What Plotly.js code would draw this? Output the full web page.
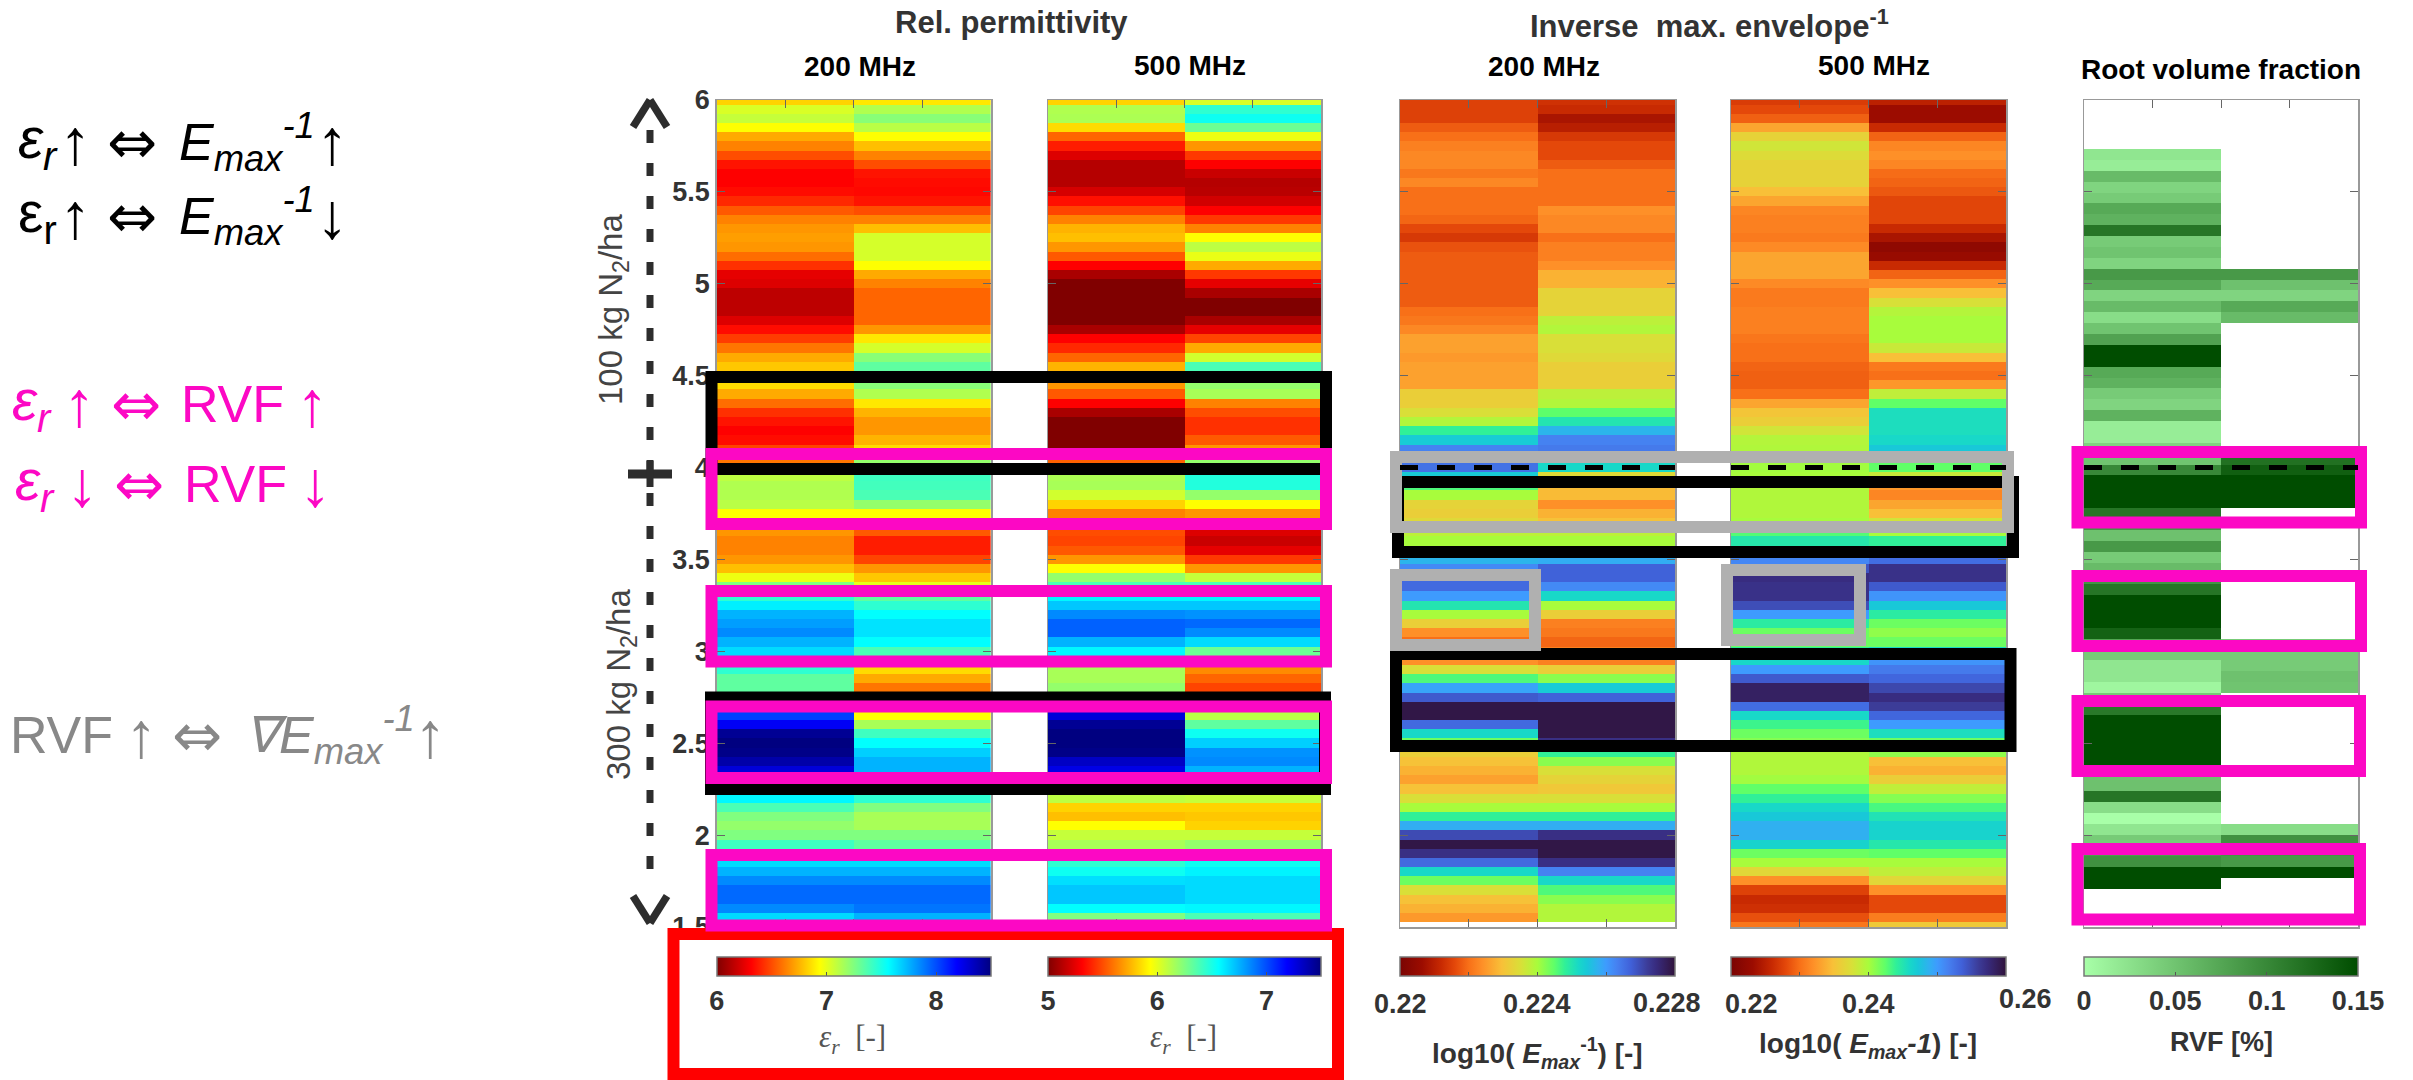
<!DOCTYPE html>
<html>
<head>
<meta charset="utf-8">
<script src="https://cdn.plot.ly/plotly-3.0.1.min.js"></script>
<style>html,body{margin:0;padding:0;background:#fff}#c{width:2413px;height:1080px}</style>
</head>
<body>
<div id="c"></div>
<script>
// Relative permittivity, 200 MHz (depth rows, 6 m to 1.5 m, step 0.05)
var perm200a=[6.83,7.03,7.08,6.94,6.73,6.63,6.5,6.36,6.31,6.31,
6.34,6.41,6.53,6.63,6.68,6.7,6.68,6.58,6.43,6.25,
6.23,6.15,6.15,6.15,6.23,6.34,6.46,6.6,6.73,6.8,
6.85,6.85,6.73,6.58,6.43,6.36,6.31,6.34,6.48,6.6,
7.1,7.1,7.13,7.13,7.11,6.94,6.8,6.68,6.63,6.63,
6.68,6.78,6.98,7.25,7.45,7.6,7.75,7.8,7.85,7.75,
7.65,7.5,7.45,7.33,7.33,7.55,8,8.03,8.21,8.45,
8.5,8.48,8.4,8.28,8,7.7,7.58,7.38,7.25,7.2,
7.25,7.41,7.5,7.65,7.75,7.85,7.93,7.93,7.85,7.65,7.5];
var perm200b=[6.88,7.13,7.23,7.11,6.94,6.78,6.63,6.5,6.36,6.34,
6.33,6.36,6.5,6.63,6.78,7.04,7.04,7.04,6.94,6.73,
6.63,6.56,6.56,6.56,6.56,6.68,6.88,7.04,7.23,7.33,
7.25,7.23,7.13,6.88,6.75,6.68,6.68,6.75,6.85,7.2,
7.38,7.41,7.4,7.38,7.2,6.94,6.68,6.53,6.38,6.38,
6.48,6.68,6.8,7,7.33,7.45,7.56,7.63,7.63,7.56,
7.38,7.13,6.85,6.73,6.6,6.6,6.88,6.94,7.15,7.41,
7.56,7.68,7.75,7.75,7.65,7.58,7.45,7.25,7.15,7.15,
7.25,7.33,7.45,7.65,7.75,7.85,7.93,7.93,7.9,7.75,7.55];
// Relative permittivity, 500 MHz
var perm500a=[5.83,6.13,6.14,5.85,5.56,5.38,5.23,5.13,5.13,5.13,
5.21,5.35,5.48,5.63,5.75,5.78,5.68,5.53,5.31,5.1,
5,5,5,5,5,5.1,5.31,5.41,5.56,5.75,
5.8,5.68,5.53,5.31,5.1,5,5,5,5,5.55,
5.88,6.14,6.15,6.05,5.83,5.63,5.5,5.5,5.48,5.53,
5.68,5.94,6.2,6.38,6.58,6.7,6.85,6.95,6.95,6.75,
6.58,6.25,6.15,6.15,6.2,6.5,7.13,7.28,7.45,7.5,
7.5,7.48,7.33,7.25,6.75,6.25,6.1,5.83,5.78,5.94,
6.08,6.15,6.3,6.45,6.53,6.64,6.7,6.7,6.56,6.25,6.25];
var perm500b=[6.03,6.45,6.53,6.3,5.98,5.68,5.45,5.31,5.18,5.13,
5.14,5.2,5.31,5.45,5.63,5.94,6.1,5.99,5.73,5.45,
5.25,5.1,5,5,5.1,5.25,5.48,5.73,6.05,6.38,
6.45,6.2,6.15,5.63,5.5,5.43,5.43,5.53,5.68,6.2,
6.45,6.48,6.48,6.2,5.94,5.68,5.5,5.23,5.18,5.25,
5.45,5.68,6.08,6.38,6.58,6.7,6.83,6.93,6.85,6.65,
6.3,6,5.65,5.56,5.48,5.63,5.88,6.11,6.33,6.53,
6.68,6.83,6.85,6.75,6.38,6.13,6.08,5.83,5.8,5.83,
6.08,6.2,6.3,6.53,6.59,6.65,6.65,6.65,6.58,6.38,6.25];
// log10 inverse max. envelope, 200 MHz
var env200a=[.2215,.2215,.2215,.2218,.222,.2222,.2223,.2223,.2221,.2223,
.222,.222,.222,.2219,.2216,.2214,.2217,.2218,.2218,.2218,
.2218,.2218,.2218,.222,.2221,.2223,.2226,.2226,.2225,.2226,
.2226,.2226,.2232,.2232,.2235,.2239,.2248,.2254,.2263,.2266,
.2265,.2254,.2246,.224,.2233,.2232,.2234,.2238,.224,.2246,
.2257,.2262,.2266,.2266,.226,.225,.224,.2232,.2224,.222,
.222,.2224,.2235,.2246,.2259,.2268,.2279,.2279,.2266,.2252,
.2244,.2232,.223,.2228,.2226,.223,.2235,.224,.2248,.2258,
.227,.2279,.2274,.2266,.2252,.2244,.2235,.223,.2228,.2225,null];
var env200b=[.2213,.2212,.2208,.221,.2214,.2216,.2216,.2218,.222,.222,
.222,.222,.2224,.2223,.2223,.222,.2222,.2222,.2224,.2228,
.2228,.2233,.2233,.2233,.2238,.2239,.2235,.2235,.2234,.2232,
.2232,.2232,.2238,.2239,.2245,.225,.2257,.2263,.2264,.2264,
.2252,.2234,.2229,.2229,.2224,.2228,.223,.2238,.224,.2248,
.2258,.2267,.2267,.2262,.2252,.224,.2232,.2222,.2221,.2219,
.2222,.2222,.2232,.2242,.2254,.2267,.2279,.2279,.2279,.2279,
.2274,.2248,.2242,.2235,.2233,.2231,.2235,.224,.2248,.2258,
.2274,.2279,.2279,.2274,.2263,.2252,.2246,.2242,.2239,.2239,null];
// log10 inverse max. envelope, 500 MHz
var env500a=[.2272,.228,.2292,.2332,.2364,.238,.2372,.2364,.2364,.2364,
.2348,.2332,.2314,.231,.231,.2306,.2316,.2332,.2332,.2332,
.2316,.2306,.2306,.231,.231,.231,.2304,.23,.23,.2294,
.2292,.2292,.23,.2332,.2352,.236,.238,.2394,.2396,.2396,
.2402,.24,.2396,.2396,.2396,.2396,.24,.2428,.2448,.2472,
.2512,.2544,.2572,.2568,.2568,.2548,.25,.2444,.242,.242,
.244,.246,.25,.254,.2584,.2584,.2528,.246,.2436,.242,
.2412,.2396,.2396,.2396,.2402,.2424,.244,.246,.2472,.2488,
.2488,.2464,.242,.24,.2368,.232,.2276,.226,.2264,.2284,.2304];
var env500b=[.2252,.2232,.2232,.226,.2294,.2314,.232,.2314,.2298,.2294,
.2288,.2278,.2278,.2278,.226,.224,.222,.2228,.226,.2294,
.232,.2348,.2376,.2394,.24,.24,.24,.2384,.2348,.2306,
.23,.2324,.2388,.2424,.2456,.2456,.2456,.246,.2472,.2464,
.2424,.2384,.2324,.2314,.2332,.2348,.238,.24,.244,.248,
.2528,.2568,.2568,.254,.2504,.2472,.2444,.242,.2408,.242,
.246,.2504,.252,.2532,.2552,.2572,.256,.2532,.25,.2456,
.242,.2408,.2348,.234,.236,.2388,.2412,.2432,.2452,.2464,
.2464,.2448,.2424,.24,.2388,.2368,.232,.228,.228,.2308,.2356];
// Root volume fraction (coarser depth rows, step about 0.059)
var rvfA=[null,null,null,null,null,.021,.015,.057,.036,.044,
.072,.065,.116,.044,.05,.036,.086,.072,.036,.057,
.029,.05,.078,.15,.15,.072,.065,.044,.036,.065,
.015,.015,.036,.05,.10,.15,.15,.15,.116,.09,
.052,.086,.044,.057,.09,.116,.15,.15,.15,.132,
.075,.044,.021,.021,.008,.045,.113,.15,.15,.15,
.15,.15,.052,.052,.116,.029,0,.021,.044,.083,
.093,.15,.15,null,null,null,null];
var rvfB=[null,null,null,null,null,null,null,null,null,null,
null,null,null,null,null,null,.086,.052,.036,.072,
.057,null,null,null,null,null,null,null,null,null,
null,null,null,.12,.135,.15,.15,.15,null,null,
null,null,null,null,null,null,null,null,null,null,
.044,.044,.044,.052,.05,null,null,null,null,null,
null,null,null,null,null,null,null,.029,.093,.09,
.086,.15,null,null,null,null,null];

var depthTicks=[1.5,2,2.5,3,3.5,4,4.5,5,5.5,6];
var depthLabels=['1.5','2','2.5','3','3.5','4','4.5','5','5.5','6'];
var barTicks=[[6,7,8],[5,6,7],[.22,.222,.224,.226,.228],[.22,.23,.24,.25,.26],[0,.05,.1,.15]];
var barLabels=[['6','7','8'],['5','6','7'],['0.22','0.222','0.224','0.226','0.228'],['0.22','0.23','0.24','0.25','0.26'],['0','0.05','0.1','0.15']];
var zRanges=[[6,8.5],[5,7.5],[.22,.228],[.22,.26],[0,.15]];
var columns=[[perm200a,perm200b],[perm500a,perm500b],[env200a,env200b],[env500a,env500b],[rvfA,rvfB]];

var W=2413,H=1080;
var panels=[[716.7,991],[1048,1321],[1400,1675],[1731,2006],[2084,2358]];
var topY=100,botY=927,barTop=957,barH=19;
var font='"Liberation Sans",Arial,sans-serif';

var jetR=[[0,'#800000'],[.125,'#ff0000'],[.375,'#ffff00'],[.625,'#00ffff'],[.875,'#0000ff'],[1,'#000080']];
var turboR=[[0,'#7a0403'],[.08,'#9c0c00'],[.15,'#c82a02'],[.2,'#e4480a'],[.25,'#f87018'],[.3,'#fe9028'],[.37,'#f8c038'],[.44,'#d8e038'],[.5,'#a8fc3c'],[.56,'#60ff68'],[.6,'#30f098'],[.65,'#18d8c8'],[.68,'#18c8d8'],[.72,'#30b0f0'],[.75,'#3e9bfe'],[.79,'#4680f0'],[.84,'#4060d8'],[.9,'#3c3c98'],[.93,'#382c80'],[1,'#30123b']];
var greens=[[0,'#a8ffa8'],[1,'#004d00']];
var scales=[jetR,jetR,turboR,turboR,greens];

var traces=[],layout={width:W,height:H,margin:{l:0,r:0,t:0,b:0,autoexpand:false},paper_bgcolor:'#fff',plot_bgcolor:'#fff',showlegend:false,font:{family:font},annotations:[],shapes:[]};

panels.forEach(function(p,i){
  var n=i?String(i+1):'';
  var zCols=columns[i];
  var z=zCols[0].map(function(v,r){return [v,zCols[1][r]];});
  var nativeLabels=(i<2||i==4);
  traces.push({type:'heatmap',z:z,x:[1,2],y0:6,dy:i==4?-4.5/76:-0.05,
    xaxis:'x'+n,yaxis:'y'+n,zmin:zRanges[i][0],zmax:zRanges[i][1],colorscale:scales[i],hoverinfo:'skip',
    colorbar:{orientation:'h',x:(p[0]+p[1])/2/W,xanchor:'center',y:1-barTop/H,yanchor:'top',
      lenmode:'pixels',len:p[1]-p[0],thicknessmode:'pixels',thickness:barH,xpad:0,ypad:0,
      outlinewidth:1.5,outlinecolor:'#777',borderwidth:0,
      tickmode:'array',tickvals:barTicks[i],ticktext:barLabels[i],showticklabels:nativeLabels,ticks:'inside',ticklen:4,tickcolor:'#555',tickwidth:1,
      tickfont:{family:font,size:27,color:'#333',weight:'bold'}}});
  layout['xaxis'+n]={domain:[p[0]/W,p[1]/W],anchor:'y'+n,range:[.5,2.5],tickmode:'array',tickvals:[1,1.5,2],
    showticklabels:false,ticks:'inside',ticklen:8,tickcolor:'#666',showline:true,linecolor:'#999',linewidth:1.5,mirror:'ticks',showgrid:false,zeroline:false};
  layout['yaxis'+n]={domain:[1-botY/H,1-topY/H],anchor:'x'+n,range:[1.5,6],tickmode:'array',tickvals:depthTicks,ticktext:depthLabels,
    showticklabels:i==0,tickfont:{family:font,size:27,color:'#333',weight:'bold'},ticks:'inside',ticklen:8,tickcolor:'#666',showline:true,linecolor:'#999',linewidth:1.5,mirror:'ticks',showgrid:false,zeroline:false};
});

function box(x0,y0,x1,y1,c){ // outer edges in pixels, 12 px stroke
  layout.shapes.push({type:'rect',xref:'paper',yref:'paper',layer:'above',x0:(x0+6)/W,x1:(x1-6)/W,y0:1-(y0+6)/H,y1:1-(y1-6)/H,line:{color:c,width:12},fillcolor:'rgba(0,0,0,0)'});
}
function seg(x0,y0,x1,y1,c,w,dash){
  layout.shapes.push({type:'line',xref:'paper',yref:'paper',layer:'above',x0:x0/W,x1:x1/W,y0:1-y0/H,y1:1-y1/H,line:{color:c,width:w,dash:dash||'solid'}});
}
function txt(x,y,t,size,c,o){
  o=o||{};
  layout.annotations.push({xref:'paper',yref:'paper',x:x/W,y:1-y/H,text:t,showarrow:false,xanchor:o.a||'center',yanchor:o.v||'middle',textangle:o.r||0,
    font:{family:o.f||font,size:size,color:c,weight:o.w||'normal'}});
}
var PINK='#fc08c4',GRAY='#b0b0b0',BLK='#000000',DK='#2d2d2d';

// black, red, grey, magenta frames (order sets overlap)
box(705.5,371,1332,475,BLK);
box(705,691.5,1331,795,BLK);
box(1392,476,2019,558,BLK);
box(1390,648,2016.5,752,BLK);
box(667.5,928,1344,1080,'#ff0000');
box(705.5,448,1332,530,PINK);
box(705.5,585,1332,667.5,PINK);
box(705.5,700.5,1332,784,PINK);
box(705.5,849,1332,931.5,PINK);
box(1390,451,2014,533,GRAY);
box(1390,569,1541,651,GRAY);
box(1721,564,1866,646,GRAY);
box(2071.5,446,2367,528.5,PINK);
box(2071.5,570,2367,652,PINK);
box(2071.5,695,2366,777,PINK);
box(2071.5,843,2366,925.5,PINK);

// dashed line at the 4 m boundary, on the envelope and RVF axes
['3','4','5'].forEach(function(n){
  layout.shapes.push({type:'line',xref:'x'+n,yref:'y'+n,layer:'above',x0:.5,x1:2.5,y0:4,y1:4,line:{color:'#000',width:5,dash:'18px,19px'}});
});

// vertical depth arrow
seg(650,130,650,888,DK,7,'13px,20px');
seg(633,127,650,100,DK,7.5); seg(667,127,650,100,DK,7.5);
seg(633,896,650,923,DK,7.5); seg(667,896,650,923,DK,7.5);
seg(628,474,672,474,DK,9); seg(650,461,650,487,DK,7);

// titles
txt(1011,22,'Rel. permittivity',31,'#333',{w:'bold'});
txt(859.5,67,'200 MHz',28,'#000',{w:'bold'});
txt(1190,65,'500 MHz',28,'#000',{w:'bold'});
txt(1709,24,'Inverse&nbsp;&nbsp;max. envelope<sup>-1</sup>',31,'#333',{w:'bold'});
txt(1543.6,67,'200 MHz',28,'#000',{w:'bold'});
txt(1874,65,'500 MHz',28,'#000',{w:'bold'});
txt(2221,69,'Root volume fraction',28,'#000',{w:'bold'});

// colour-bar labels
var SER='"Liberation Serif",serif';
txt(852.6,1039,'<i>ε<sub>r</sub></i>&nbsp; [-]',31,'#555',{f:SER});
txt(1183,1039,'<i>ε<sub>r</sub></i>&nbsp; [-]',31,'#555',{f:SER});
txt(1400,1004,'0.22',27,'#333',{w:'bold'});
txt(1537,1004,'0.224',27,'#333',{w:'bold'});
txt(1667,1003,'0.228',27,'#333',{w:'bold'});
txt(1751,1004,'0.22',27,'#333',{w:'bold'});
txt(1868,1004,'0.24',27,'#333',{w:'bold'});
txt(2025,999,'0.26',27,'#333',{w:'bold'});
txt(1537,1053,'log10( <i>E<sub>max</sub></i><sup>-1</sup>) [-]',28,'#333',{w:'bold'});
txt(1868,1045,'log10( <i>E<sub>max</sub>-1</i>) [-]',28,'#333',{w:'bold'});
txt(2221.7,1042,'RVF [%]',27,'#333',{w:'bold'});

// rotated labels
txt(613,310,'100 kg N<sub>2</sub>/ha',33,'#444',{r:-90});
txt(621,685,'300 kg N<sub>2</sub>/ha',33,'#444',{r:-90});

// left-hand relations
function rel(y,c,parts){parts.forEach(function(p){txt(p[0],y+(p[3]||0),p[1],p[2]||50,c,{a:p[4]||'center',f:p[5]});});}
var EPS='<i>ε<sub>r</sub></i>',EPU='ε<sub>r</sub>',EM='<i>E<sub>max</sub><sup>-1</sup></i>',DJ='"DejaVu Sans",sans-serif';
rel(142,'#000',[[16,EPS,57,0,'left'],[75,'↑',64],[132,'⇔',60,0,'center',DJ],[177,EM,52,0,'left'],[332,'↑',64]]);
rel(216,'#000',[[16,EPU,57,0,'left'],[75,'↑',64],[132,'⇔',60,0,'center',DJ],[177,EM,52,0,'left'],[332,'↓',64]]);
rel(404,PINK,[[10,EPS,57,0,'left'],[79,'↑',64],[136,'⇔',60,0,'center',DJ],[179,'RVF',52,0,'left'],[312,'↑',64]]);
rel(484,PINK,[[13,EPS,57,0,'left'],[82,'↓',64],[139,'⇔',60,0,'center',DJ],[182,'RVF',52,0,'left'],[315,'↓',64]]);
rel(735,'#888',[[8,'RVF',52,0,'left'],[141,'↑',64],[197,'⇔',60,0,'center',DJ],[243,'<i>∇</i>',50,0,'left'],[277,EM,52,0,'left'],[430,'↑',64]]);

Plotly.newPlot('c',traces,layout,{staticPlot:true,displayModeBar:false});
</script>
</body>
</html>
